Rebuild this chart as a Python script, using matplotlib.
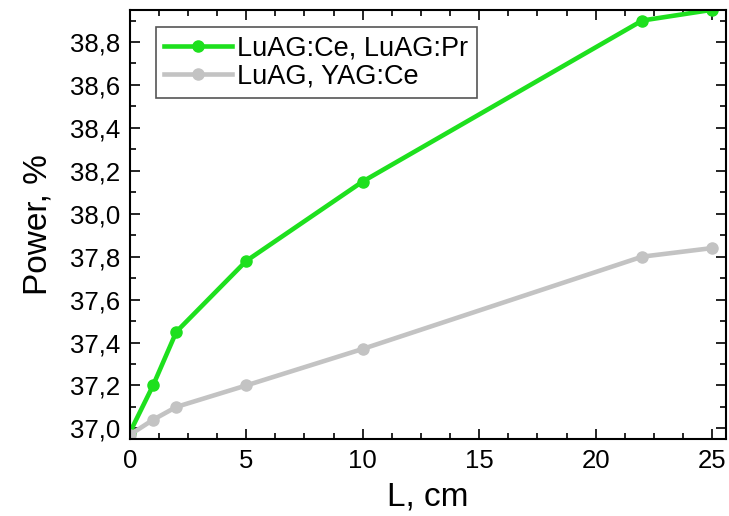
import numpy as np
import matplotlib.pyplot as plt
from matplotlib.ticker import MultipleLocator, FuncFormatter

plt.rcParams['font.family'] = ['Liberation Sans', 'DejaVu Sans']

# data
L_cm = [0, 1, 2, 5, 10, 22, 25]
power_ce_pr = [36.98, 37.20, 37.45, 37.78, 38.15, 38.90, 38.95]
power_yag = [36.97, 37.04, 37.10, 37.20, 37.37, 37.80, 37.84]
labels = ["LuAG:Ce, LuAG:Pr", "LuAG, YAG:Ce"]

fig = plt.figure(figsize=(7.29, 5.16), dpi=100)
ax = fig.add_axes([0.178, 0.149, 0.818, 0.832])

ax.plot(L_cm, power_ce_pr, color='#1ee01e', lw=3.3, marker='o', ms=8, label=labels[0])
ax.plot(L_cm, power_yag, color='#c3c3c3', lw=3.3, marker='o', ms=8, label=labels[1])

ax.set_xlim(0, 25.6)
ax.set_ylim(36.95, 38.95)

ax.xaxis.set_major_locator(MultipleLocator(5))
ax.xaxis.set_minor_locator(MultipleLocator(1.25))
ax.yaxis.set_major_locator(MultipleLocator(0.2))
ax.yaxis.set_minor_locator(MultipleLocator(0.1))
ax.yaxis.set_major_formatter(FuncFormatter(lambda v, p: f"{v:.1f}".replace('.', ',')))

ax.tick_params(which='both', direction='in', top=True, right=True, width=1.2)
ax.tick_params(which='major', length=7, labelsize=18.5, pad=7)
ax.tick_params(which='minor', length=4)
for s in ax.spines.values():
    s.set_linewidth(1.5)

ax.set_xlabel("L, cm", fontsize=24, labelpad=6)
ax.set_ylabel("Power, %", fontsize=24, labelpad=12)

leg = ax.legend(loc='upper left', bbox_to_anchor=(0.044, 0.96), borderaxespad=0,
                fontsize=19.5, fancybox=False, handlelength=2.5, handletextpad=0.2,
                borderpad=0.3, labelspacing=0.1, framealpha=1)
leg.get_frame().set_edgecolor('#555555')
leg.get_frame().set_linewidth(1.2)

fig.savefig("out.png", dpi=100)
